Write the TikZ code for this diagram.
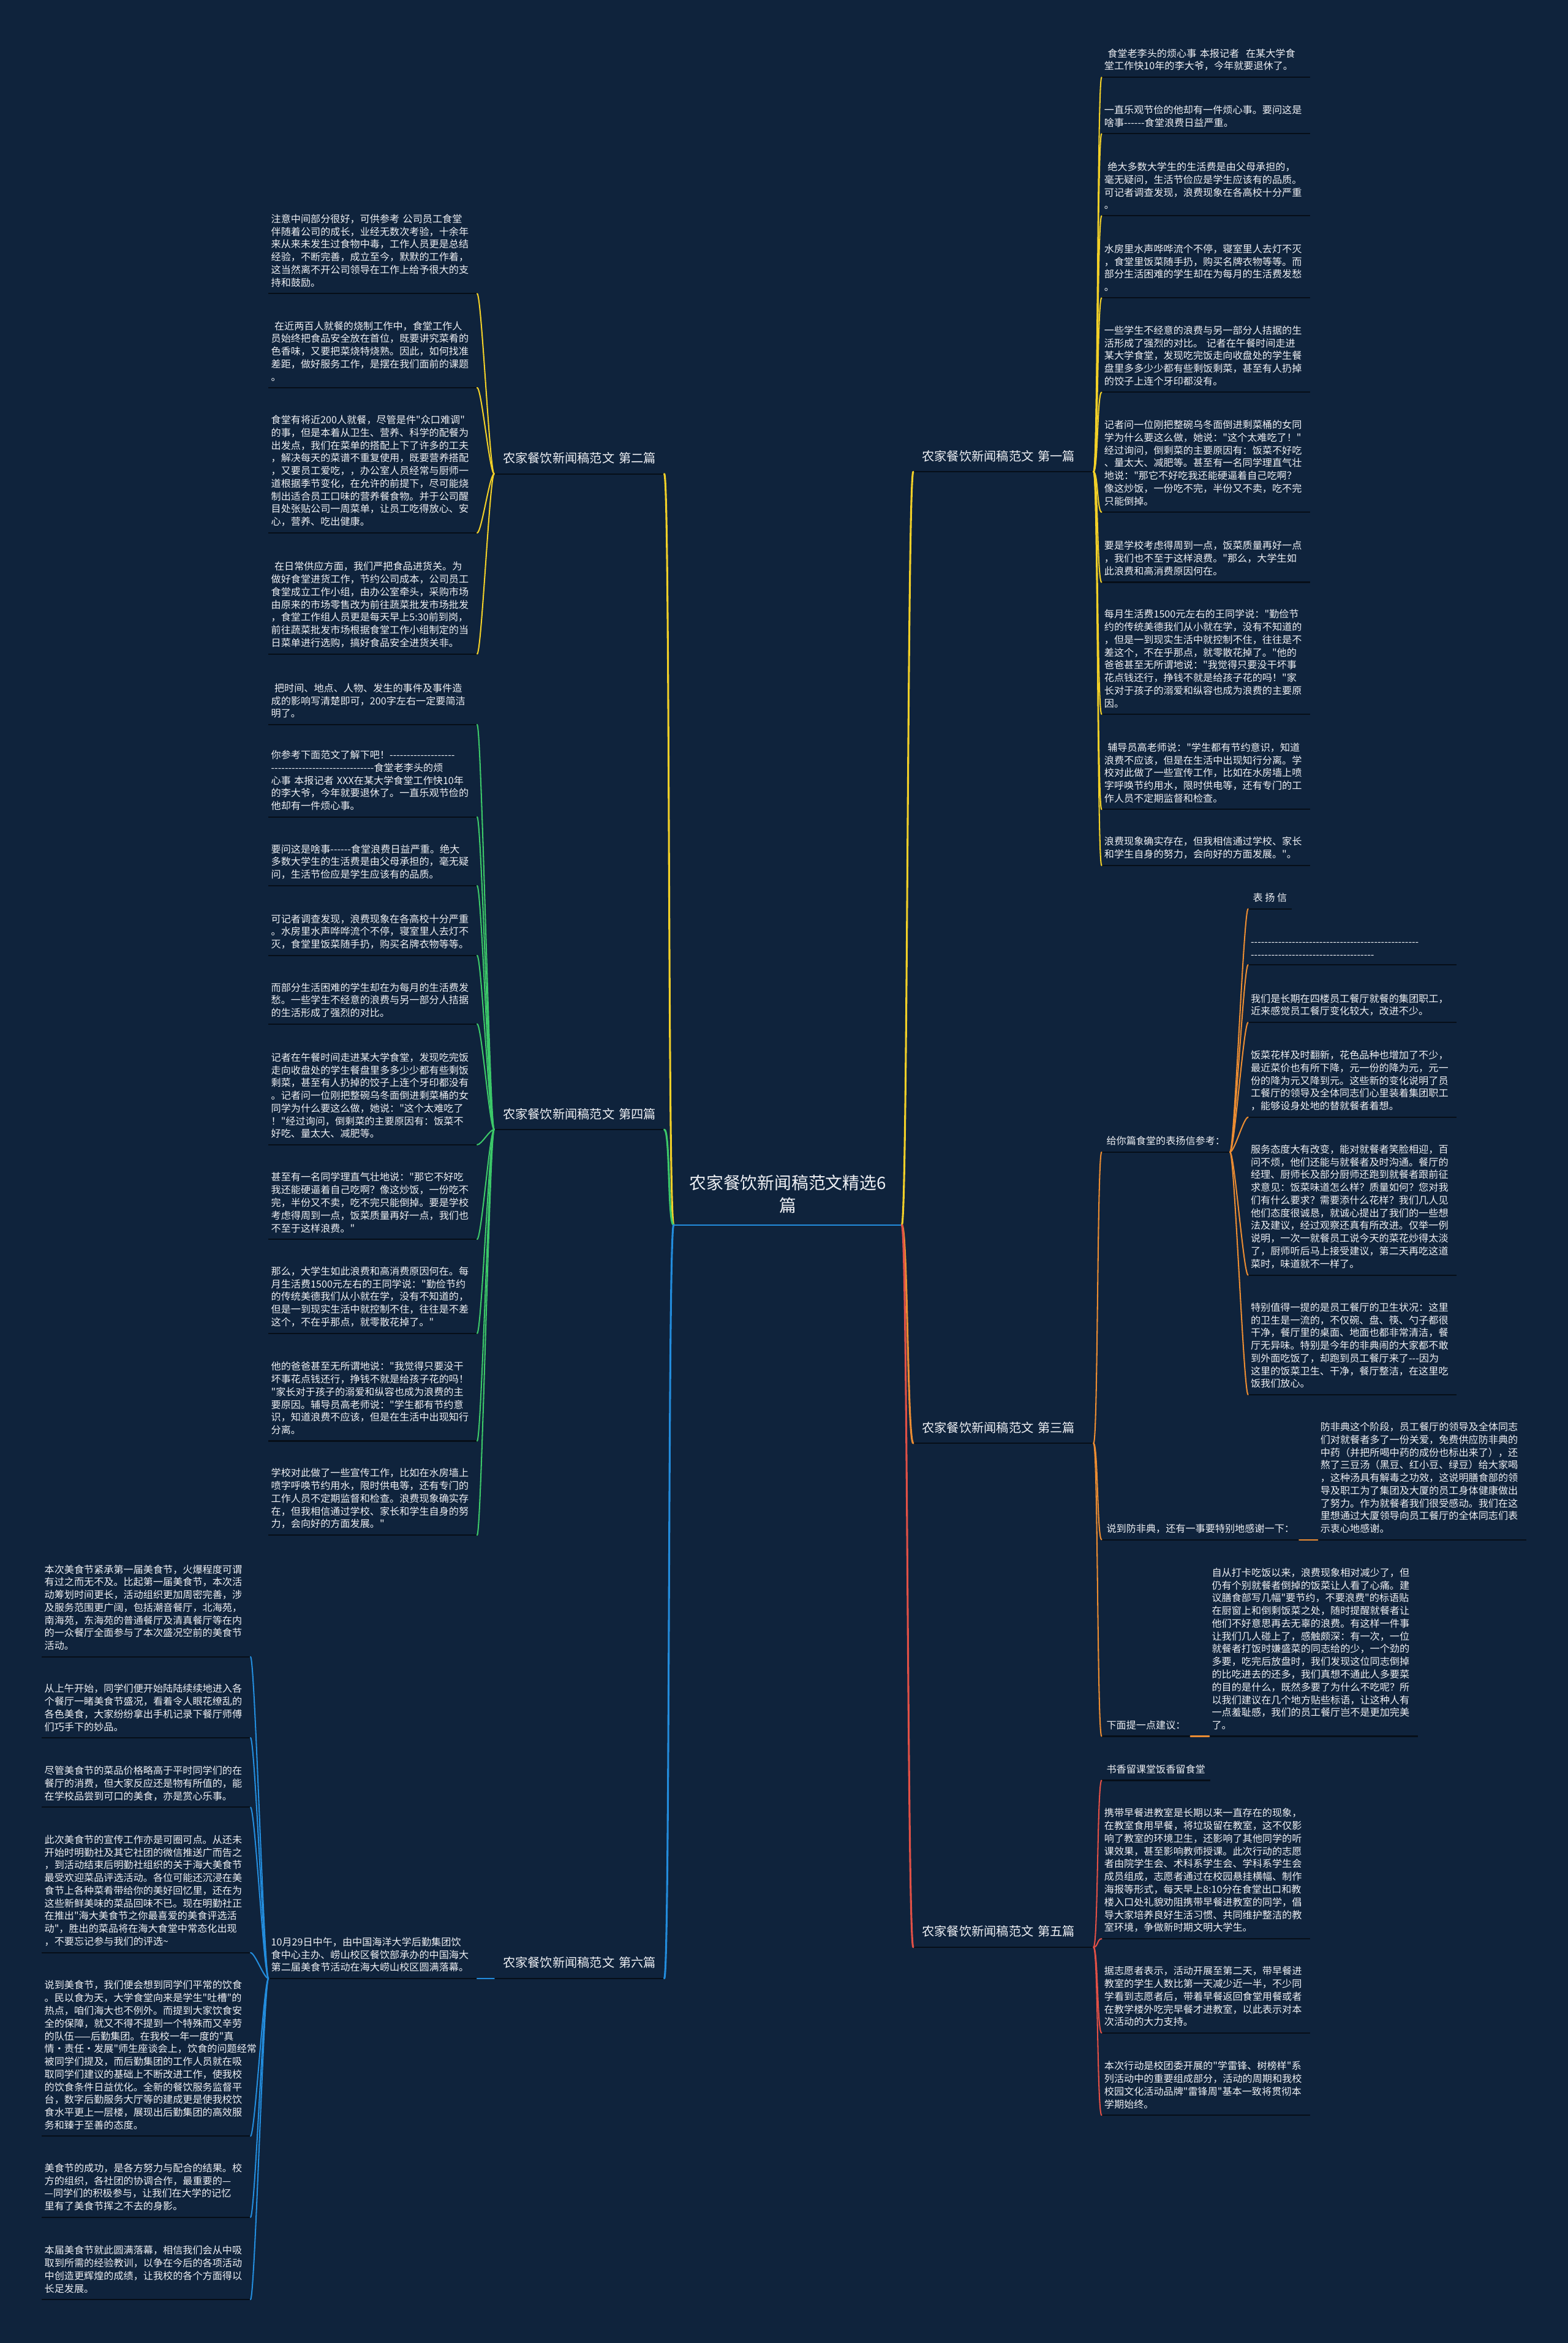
\documentclass[tikz,border=0pt]{standalone}
\usepackage{fontspec}
\newfontfamily\cjkfont{Noto Sans CJK SC}
\definecolor{BgColor}{RGB}{15,35,60}
\definecolor{TextColor}{RGB}{238,240,244}
\definecolor{LineColor}{RGB}{6,14,24}
\definecolor{YellowColor}{RGB}{242,208,40}
\definecolor{GreenColor}{RGB}{60,200,105}
\definecolor{BlueColor}{RGB}{35,140,220}
\definecolor{OrangeColor}{RGB}{235,140,50}
\definecolor{RedColor}{RGB}{225,80,70}
\tikzstyle{root} = [text=TextColor, font=\cjkfont\fontsize{8.1pt}{10.8pt}\selectfont, align=center, minimum width=3.8cm, inner xsep=0pt, inner ysep=5.5pt, anchor=south]
\tikzstyle{branch} = [text=TextColor, font=\cjkfont\fontsize{5.9pt}{7pt}\selectfont, align=left, text width=2.72cm, inner xsep=0.14cm, inner ysep=4.5pt, anchor=south west]
\tikzstyle{sub} = [text=TextColor, font=\cjkfont\fontsize{4.7pt}{6.05pt}\selectfont, align=left, inner xsep=0.075cm, inner ysep=2.9pt, anchor=south west]
\tikzstyle{leaf} = [sub, text width=3.4cm, inner xsep=0.0375cm]
\tikzstyle{uline} = [LineColor, line width=0.6pt]
\tikzstyle{mainconn} = [line width=0.9pt, line cap=round]
\tikzstyle{conn} = [line width=0.6pt, line cap=round]

\begin{document}
\begin{tikzpicture}[x=0.025cm, y=-0.025cm]
% Background
\fill[BgColor] (0,0) rectangle (1049,1567.4);
\useasboundingbox (0,0) rectangle (1049,1567.4);

% Root
\node[root] (root) at (527,819.5) {农家餐饮新闻稿范文精选6\\篇};

% Branches
\node[branch] (b1) at (611,315.6) {农家餐饮新闻稿范文~第一篇};
\node[branch] (b3) at (611,965.5) {农家餐饮新闻稿范文~第三篇};
\node[branch] (b5) at (611,1302.6) {农家餐饮新闻稿范文~第五篇};
\node[branch, text width=2.55cm] (b2) at (330.6,317) {农家餐饮新闻稿范文~第二篇};
\node[branch, text width=2.55cm] (b4) at (330.6,755.6) {农家餐饮新闻稿范文~第四篇};
\node[branch, text width=2.55cm] (b6) at (330.6,1323.5) {农家餐饮新闻稿范文~第六篇};

% First piece
\node[leaf] (a1) at (737,51.7) {\ 食堂老李头的烦心事~本报记者~~在某大学食\\堂工作快10年的李大爷，今年就要退休了。};
\node[leaf] (a2) at (737,89.5) {一直乐观节俭的他却有一件烦心事。要问这是\\啥事------食堂浪费日益严重。};
\node[leaf] (a3) at (737,144.4) {\ 绝大多数大学生的生活费是由父母承担的，\\毫无疑问，生活节俭应是学生应该有的品质。\\可记者调查发现，浪费现象在各高校十分严重\\。};
\node[leaf] (a4) at (737,199.3) {水房里水声哗哗流个不停，寝室里人去灯不灭\\，食堂里饭菜随手扔，购买名牌衣物等等。而\\部分生活困难的学生却在为每月的生活费发愁\\。};
\node[leaf] (a5) at (737,262.4) {一些学生不经意的浪费与另一部分人拮据的生\\活形成了强烈的对比。~记者在午餐时间走进\\某大学食堂，发现吃完饭走向收盘处的学生餐\\盘里多多少少都有些剩饭剩菜，甚至有人扔掉\\的饺子上连个牙印都没有。};
\node[leaf] (a6) at (737,342.6) {记者问一位刚把整碗乌冬面倒进剩菜桶的女同\\学为什么要这么做，她说："这个太难吃了！"\\经过询问，倒剩菜的主要原因有：饭菜不好吃\\、量太大、减肥等。甚至有一名同学理直气壮\\地说："那它不好吃我还能硬逼着自己吃啊？\\像这炒饭，一份吃不完，半份又不卖，吃不完\\只能倒掉。};
\node[leaf] (a7) at (737,389.5) {要是学校考虑得周到一点，饭菜质量再好一点\\，我们也不至于这样浪费。"那么，大学生如\\此浪费和高消费原因何在。};
\node[leaf] (a8) at (737,477.8) {每月生活费1500元左右的王同学说："勤俭节\\约的传统美德我们从小就在学，没有不知道的\\，但是一到现实生活中就控制不住，往往是不\\差这个，不在乎那点，就零散花掉了。"他的\\爸爸甚至无所谓地说："我觉得只要没干坏事\\花点钱还行，挣钱不就是给孩子花的吗！"家\\长对于孩子的溺爱和纵容也成为浪费的主要原\\因。};
\node[leaf] (a9) at (737,541.5) {\ 辅导员高老师说："学生都有节约意识，知道\\浪费不应该，但是在生活中出现知行分离。学\\校对此做了一些宣传工作，比如在水房墙上喷\\字呼唤节约用水，限时供电等，还有专门的工\\作人员不定期监督和检查。};
\node[leaf] (a10) at (737,579) {浪费现象确实存在，但我相信通过学校、家长\\和学生自身的努力，会向好的方面发展。"。};

% Third piece
\node[sub] (s1) at (737,770.7) {给你篇食堂的表扬信参考：};
\node[sub] (s2) at (737,1030) {说到防非典，还有一事要特别地感谢一下：};
\node[sub] (s3) at (737,1161.5) {下面提一点建议：};
\node[sub] (t1) at (835,608) {表~扬~信};
\node[leaf] (t2) at (835,645.4) {-------------------------------------------------\\------------------------------------};
\node[leaf] (t3) at (835,684) {我们是长期在四楼员工餐厅就餐的集团职工，\\近来感觉员工餐厅变化较大，改进不少。};
\node[leaf] (t4) at (835,747.4) {饭菜花样及时翻新，花色品种也增加了不少，\\最近菜价也有所下降，元一份的降为元，元一\\份的降为元又降到元。这些新的变化说明了员\\工餐厅的领导及全体同志们心里装着集团职工\\，能够设身处地的替就餐者着想。};
\node[leaf] (t5) at (835,853) {服务态度大有改变，能对就餐者笑脸相迎，百\\问不烦，他们还能与就餐者及时沟通。餐厅的\\经理、厨师长及部分厨师还跑到就餐者跟前征\\求意见：饭菜味道怎么样？质量如何？您对我\\们有什么要求？需要添什么花样？我们几人见\\他们态度很诚恳，就诚心提出了我们的一些想\\法及建议，经过观察还真有所改进。仅举一例\\说明，一次一就餐员工说今天的菜花炒得太淡\\了，厨师听后马上接受建议，第二天再吃这道\\菜时，味道就不一样了。};
\node[leaf] (t6) at (835,933) {特别值得一提的是员工餐厅的卫生状况：这里\\的卫生是一流的，不仅碗、盘、筷、勺子都很\\干净，餐厅里的桌面、地面也都非常清洁，餐\\厅无异味。特别是今年的非典闹的大家都不敢\\到外面吃饭了，却跑到员工餐厅来了---因为\\这里的饭菜卫生、干净，餐厅整洁，在这里吃\\饭我们放心。};
\node[leaf] (t7) at (881.6,1030) {防非典这个阶段，员工餐厅的领导及全体同志\\们对就餐者多了一份关爱，免费供应防非典的\\中药（并把所喝中药的成份也标出来了），还\\熬了三豆汤（黑豆、红小豆、绿豆）给大家喝\\，这种汤具有解毒之功效，这说明膳食部的领\\导及职工为了集团及大厦的员工身体健康做出\\了努力。作为就餐者我们很受感动。我们在这\\里想通过大厦领导向员工餐厅的全体同志们表\\示衷心地感谢。};
\node[leaf] (t8) at (809,1161.5) {自从打卡吃饭以来，浪费现象相对减少了，但\\仍有个别就餐者倒掉的饭菜让人看了心痛。建\\议膳食部写几幅"要节约，不要浪费"的标语贴\\在厨窗上和倒剩饭菜之处，随时提醒就餐者让\\他们不好意思再去无辜的浪费。有这样一件事\\让我们几人碰上了，感触颇深：有一次，一位\\就餐者打饭时嫌盛菜的同志给的少，一个劲的\\多要，吃完后放盘时，我们发现这位同志倒掉\\的比吃进去的还多，我们真想不通此人多要菜\\的目的是什么，既然多要了为什么不吃呢？所\\以我们建议在几个地方贴些标语，让这种人有\\一点羞耻感，我们的员工餐厅岂不是更加完美\\了。};

% Fifth piece
\node[sub] (f1) at (737,1191) {书香留课堂饭香留食堂};
\node[leaf] (f2) at (737,1297) {携带早餐进教室是长期以来一直存在的现象，\\在教室食用早餐，将垃圾留在教室，这不仅影\\响了教室的环境卫生，还影响了其他同学的听\\课效果，甚至影响教师授课。此次行动的志愿\\者由院学生会、术科系学生会、学科系学生会\\成员组成，志愿者通过在校园悬挂横幅、制作\\海报等形式，每天早上8:10分在食堂出口和教\\楼入口处礼貌劝阻携带早餐进教室的同学，倡\\导大家培养良好生活习惯、共同维护整洁的教\\室环境，争做新时期文明大学生。};
\node[leaf] (f3) at (737,1360) {据志愿者表示，活动开展至第二天，带早餐进\\教室的学生人数比第一天减少近一半，不少同\\学看到志愿者后，带着早餐返回食堂用餐或者\\在教学楼外吃完早餐才进教室，以此表示对本\\次活动的大力支持。};
\node[leaf] (f4) at (737,1415) {本次行动是校团委开展的"学雷锋、树榜样"系\\列活动中的重要组成部分，活动的周期和我校\\校园文化活动品牌"雷锋周"基本一致将贯彻本\\学期始终。};

% Second piece
\node[leaf] (e1) at (179.6,196.4) {注意中间部分很好，可供参考~公司员工食堂\\伴随着公司的成长，业经无数次考验，十余年\\来从来未发生过食物中毒，工作人员更是总结\\经验，不断完善，成立至今，默默的工作着，\\这当然离不开公司领导在工作上给予很大的支\\持和鼓励。};
\node[leaf] (e2) at (179.6,259.3) {\ 在近两百人就餐的烧制工作中，食堂工作人\\员始终把食品安全放在首位，既要讲究菜肴的\\色香味，又要把菜烧特烧熟。因此，如何找准\\差距，做好服务工作，是摆在我们面前的课题\\。};
\node[leaf] (e3) at (179.6,356.5) {食堂有将近200人就餐，尽管是件"众口难调"\\的事，但是本着从卫生、营养、科学的配餐为\\出发点，我们在菜单的搭配上下了许多的工夫\\，解决每天的菜谱不重复使用，既要营养搭配\\，又要员工爱吃，，办公室人员经常与厨师一\\道根据季节变化，在允许的前提下，尽可能烧\\制出适合员工口味的营养餐食物。并于公司醒\\目处张贴公司一周菜单，让员工吃得放心、安\\心，营养、吃出健康。};
\node[leaf] (e4) at (179.6,437.5) {\ 在日常供应方面，我们严把食品进货关。为\\做好食堂进货工作，节约公司成本，公司员工\\食堂成立工作小组，由办公室牵头，采购市场\\由原来的市场零售改为前往蔬菜批发市场批发\\，食堂工作组人员更是每天早上5:30前到岗，\\前往蔬菜批发市场根据食堂工作小组制定的当\\日菜单进行选购，搞好食品安全进货关非。};

% Fourth piece
\node[leaf] (g1) at (179.6,484.7) {\ 把时间、地点、人物、发生的事件及事件造\\成的影响写清楚即可，200字左右一定要简洁\\明了。};
\node[leaf] (g2) at (179.6,546.5) {你参考下面范文了解下吧！-------------------\\------------------------------食堂老李头的烦\\心事~本报记者~XXX在某大学食堂工作快10年\\的李大爷，今年就要退休了。一直乐观节俭的\\他却有一件烦心事。};
\node[leaf] (g3) at (179.6,592.5) {要问这是啥事------食堂浪费日益严重。绝大\\多数大学生的生活费是由父母承担的，毫无疑\\问，生活节俭应是学生应该有的品质。};
\node[leaf] (g4) at (179.6,639.2) {可记者调查发现，浪费现象在各高校十分严重\\。水房里水声哗哗流个不停，寝室里人去灯不\\灭，食堂里饭菜随手扔，购买名牌衣物等等。};
\node[leaf] (g5) at (179.6,685) {而部分生活困难的学生却在为每月的生活费发\\愁。一些学生不经意的浪费与另一部分人拮据\\的生活形成了强烈的对比。};
\node[leaf] (g6) at (179.6,765.8) {记者在午餐时间走进某大学食堂，发现吃完饭\\走向收盘处的学生餐盘里多多少少都有些剩饭\\剩菜，甚至有人扔掉的饺子上连个牙印都没有\\。记者问一位刚把整碗乌冬面倒进剩菜桶的女\\同学为什么要这么做，她说："这个太难吃了\\！"经过询问，倒剩菜的主要原因有：饭菜不\\好吃、量太大、减肥等。};
\node[leaf] (g7) at (179.6,829) {甚至有一名同学理直气壮地说："那它不好吃\\我还能硬逼着自己吃啊？像这炒饭，一份吃不\\完，半份又不卖，吃不完只能倒掉。要是学校\\考虑得周到一点，饭菜质量再好一点，我们也\\不至于这样浪费。"};
\node[leaf] (g8) at (179.6,892) {那么，大学生如此浪费和高消费原因何在。每\\月生活费1500元左右的王同学说："勤俭节约\\的传统美德我们从小就在学，没有不知道的，\\但是一到现实生活中就控制不住，往往是不差\\这个，不在乎那点，就零散花掉了。"};
\node[leaf] (g9) at (179.6,964) {他的爸爸甚至无所谓地说："我觉得只要没干\\坏事花点钱还行，挣钱不就是给孩子花的吗！\\"家长对于孩子的溺爱和纵容也成为浪费的主\\要原因。辅导员高老师说："学生都有节约意\\识，知道浪费不应该，但是在生活中出现知行\\分离。};
\node[leaf] (g10) at (179.6,1027) {学校对此做了一些宣传工作，比如在水房墙上\\喷字呼唤节约用水，限时供电等，还有专门的\\工作人员不定期监督和检查。浪费现象确实存\\在，但我相信通过学校、家长和学生自身的努\\力，会向好的方面发展。"};

% Sixth piece
\node[leaf] (h0) at (179.6,1323.5) {10月29日中午，由中国海洋大学后勤集团饮\\食中心主办、崂山校区餐饮部承办的中国海大\\第二届美食节活动在海大崂山校区圆满落幕。};
\node[leaf] (k1) at (28,1108.3) {本次美食节紧承第一届美食节，火爆程度可谓\\有过之而无不及。比起第一届美食节，本次活\\动筹划时间更长，活动组织更加周密完善，涉\\及服务范围更广阔，包括潮音餐厅，北海苑，\\南海苑，东海苑的普通餐厅及清真餐厅等在内\\的一众餐厅全面参与了本次盛况空前的美食节\\活动。};
\node[leaf] (k2) at (28,1162.5) {从上午开始，同学们便开始陆陆续续地进入各\\个餐厅一睹美食节盛况，看着令人眼花缭乱的\\各色美食，大家纷纷拿出手机记录下餐厅师傅\\们巧手下的妙品。};
\node[leaf] (k3) at (28,1209) {尽管美食节的菜品价格略高于平时同学们的在\\餐厅的消费，但大家反应还是物有所值的，能\\在学校品尝到可口的美食，亦是赏心乐事。};
\node[leaf] (k4) at (28,1306.3) {此次美食节的宣传工作亦是可圈可点。从还未\\开始时明勤社及其它社团的微信推送广而告之\\，到活动结束后明勤社组织的关于海大美食节\\最受欢迎菜品评选活动。各位可能还沉浸在美\\食节上各种菜肴带给你的美好回忆里，还在为\\这些新鲜美味的菜品回味不已。现在明勤社正\\在推出"海大美食节之你最喜爱的美食评选活\\动"，胜出的菜品将在海大食堂中常态化出现\\，不要忘记参与我们的评选\textasciitilde};
\node[leaf] (k5) at (28,1429) {说到美食节，我们便会想到同学们平常的饮食\\。民以食为天，大学食堂向来是学生"吐槽"的\\热点，咱们海大也不例外。而提到大家饮食安\\全的保障，就又不得不提到一个特殊而又辛劳\\的队伍——后勤集团。在我校一年一度的"真\\情·责任·发展"师生座谈会上，饮食的问题经常\\被同学们提及，而后勤集团的工作人员就在吸\\取同学们建议的基础上不断改进工作，使我校\\的饮食条件日益优化。全新的餐饮服务监督平\\台，数字后勤服务大厅等的建成更是使我校饮\\食水平更上一层楼，展现出后勤集团的高效服\\务和臻于至善的态度。};
\node[leaf] (k6) at (28,1483.3) {美食节的成功，是各方努力与配合的结果。校\\方的组织，各社团的协调合作，最重要的—\\—同学们的积极参与，让我们在大学的记忆\\里有了美食节挥之不去的身影。};
\node[leaf] (k7) at (28,1538.3) {本届美食节就此圆满落幕，相信我们会从中吸\\取到所需的经验教训，以争在今后的各项活动\\中创造更辉煌的成绩，让我校的各个方面得以\\长足发展。};

% Underlines
\draw[BlueColor, line width=0.7pt] (root.south west) -- (root.south east);
\foreach \n in {b1,b2,b3,b4,b5,b6,s1,s2,s3,t1,t2,t3,t4,t5,t6,t7,t8,f1,f2,f3,f4,h0}
  \draw[uline] (\n.south west) -- (\n.south east);
\foreach \i in {1,...,10} {
  \draw[uline] (a\i.south west) -- (a\i.south east);
  \draw[uline] (g\i.south west) -- (g\i.south east);
}
\foreach \i in {1,...,4} \draw[uline] (e\i.south west) -- (e\i.south east);
\foreach \i in {1,...,7} \draw[uline] (k\i.south west) -- (k\i.south east);

% Root to branches
\draw[mainconn, YellowColor] (root.south east) .. controls +(4,0) and +(-4,0) .. (b1.south west);
\draw[mainconn, OrangeColor] (root.south east) .. controls +(4,0) and +(-4,0) .. (b3.south west);
\draw[mainconn, RedColor] (root.south east) .. controls +(4,0) and +(-4,0) .. (b5.south west);
\draw[mainconn, YellowColor] (root.south west) .. controls +(-4,0) and +(4,0) .. (b2.south east);
\draw[mainconn, GreenColor] (root.south west) .. controls +(-4,0) and +(4,0) .. (b4.south east);
\draw[mainconn, BlueColor] (root.south west) .. controls +(-4,0) and +(4,0) .. (b6.south east);

% Branches to leaves
\foreach \i in {1,...,10}
  \draw[conn, YellowColor] (b1.south east) .. controls +(3,0) and +(-3,0) .. (a\i.south west);
\foreach \i in {1,...,3}
  \draw[conn, OrangeColor] (b3.south east) .. controls +(3,0) and +(-3,0) .. (s\i.south west);
\foreach \i in {1,...,6}
  \draw[conn, OrangeColor] (s1.south east) .. controls +(3,0) and +(-3,0) .. (t\i.south west);
\draw[conn, OrangeColor] (s2.south east) -- (t7.south west);
\draw[conn, OrangeColor] (s3.south east) -- (t8.south west);
\foreach \i in {1,...,4}
  \draw[conn, RedColor] (b5.south east) .. controls +(3,0) and +(-3,0) .. (f\i.south west);
\foreach \i in {1,...,4}
  \draw[conn, YellowColor] (b2.south west) .. controls +(-3,0) and +(3,0) .. (e\i.south east);
\foreach \i in {1,...,10}
  \draw[conn, GreenColor] (b4.south west) .. controls +(-3,0) and +(3,0) .. (g\i.south east);
\draw[conn, BlueColor] (b6.south west) -- (h0.south east);
\foreach \i in {1,...,7}
  \draw[conn, BlueColor] (h0.south west) .. controls +(-3,0) and +(3,0) .. (k\i.south east);
\end{tikzpicture}
\end{document}
